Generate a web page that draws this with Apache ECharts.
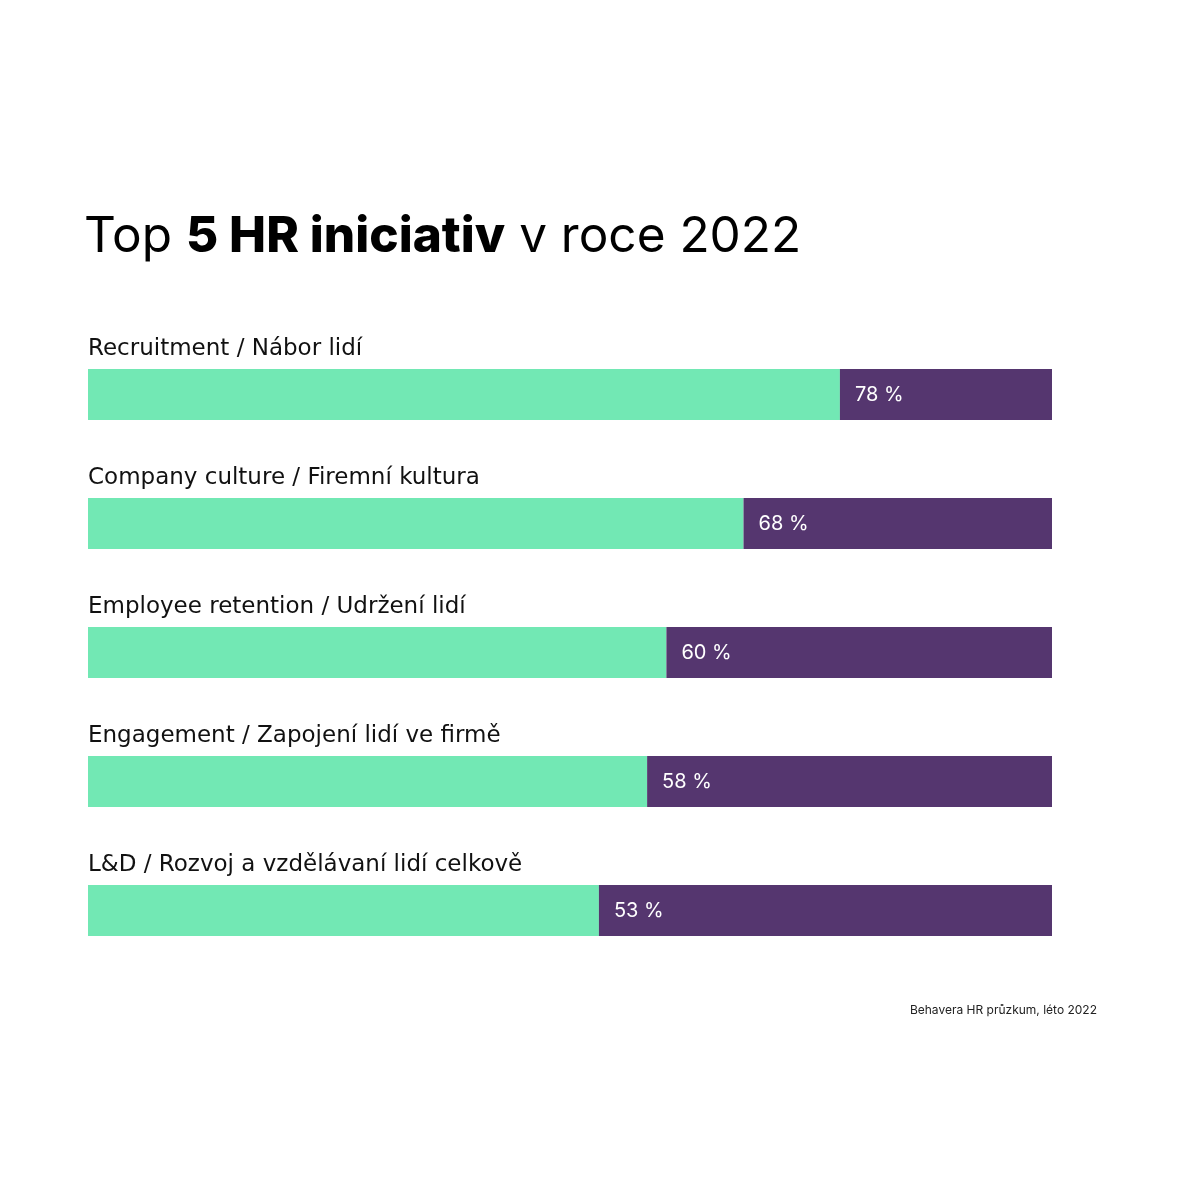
<!DOCTYPE html>
<html><head><meta charset="utf-8">
<script src="https://cdn.jsdelivr.net/npm/echarts@6/dist/echarts.min.js"></script>
<style>html,body{margin:0;padding:0;background:#fff}#c{width:1200px;height:1200px}</style>
</head><body><div id="c"></div>
<script>
const categories = ["Recruitment / Nábor lidí","Company culture / Firemní kultura","Employee retention / Udržení lidí","Engagement / Zapojení lidí ve firmě","L&D / Rozvoj a vzdělávaní lidí celkově"];
const values = [78, 68, 60, 58, 53];
const total = 100;
const rest = values.map(v => total - v);
const FONT = "Inter";
const CAT_FONT = "DejaVu Sans";
const chart = echarts.init(document.getElementById('c'));
chart.setOption({
  backgroundColor: '#fff',
  animation: false,
  title: [{
    left: 79, top: 207,
    text: '{n|Top }{b|5 HR iniciativ}{n| v roce 2022}',
    textStyle: { rich: {
      n: { fontFamily: FONT, fontSize: 49.5, fontWeight: 400, color: '#000' },
      b: { fontFamily: FONT, fontSize: 49.5, fontWeight: 800, color: '#000' }
    } }
  }, {
    right: 98, top: 999,
    text: 'Behavera HR průzkum, léto 2022',
    textStyle: { fontFamily: FONT, fontSize: 12, fontWeight: 400, color: '#222' }
  }],
  grid: { left: 88, right: 148, top: 330, height: 645, containLabel: false },
  xAxis: { type: 'value', min: 0, max: total, show: false },
  yAxis: { type: 'category', data: categories, inverse: true, show: false },
  series: [{
    type: 'bar', stack: 's', data: values, barWidth: 51,
    itemStyle: { color: '#72E8B4' },
    label: { show: true, position: [0, -8], align: 'left', verticalAlign: 'bottom',
      formatter: p => categories[p.dataIndex],
      fontFamily: CAT_FONT, fontSize: 23, color: '#111' }
  }, {
    type: 'bar', stack: 's', data: rest, barWidth: 51,
    itemStyle: { color: '#55366F' },
    label: { show: true, position: 'insideLeft', distance: 15,
      formatter: p => values[p.dataIndex] + ' %',
      fontFamily: FONT, fontSize: 20, color: '#fff' }
  }]
});
</script></body></html>
